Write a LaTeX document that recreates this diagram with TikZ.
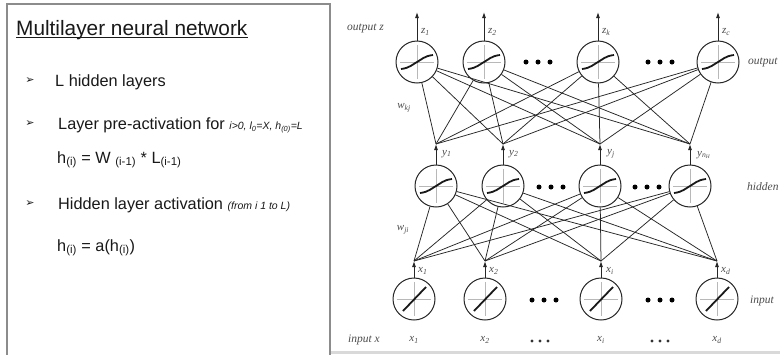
\documentclass[tikz,border=0pt]{standalone}
\usepackage{fontspec}
\setmainfont{Liberation Sans}
\newfontfamily\tim{Liberation Serif}
\newfontfamily\dejavu{DejaVu Sans}
\usetikzlibrary{arrows.meta}
\begin{document}
\begin{tikzpicture}[x=1pt,y=-1pt,
  neuron/.style={circle, draw=black!85, line width=1pt, minimum size=42pt, inner sep=0pt, fill=white},
  sig/.style={neuron, path picture={
      \draw[black!28, line width=0.9pt, shift={(path picture bounding box.center)}] (-17,0) -- (17,0) (0,-17) -- (0,17);
      \draw[black!90, line width=1.8pt, shift={(path picture bounding box.center)}]
        (-16,7) .. controls (-7,6) and (-4,2) .. (0,0) .. controls (4,-2) and (7,-6) .. (16,-7);}},
  lin/.style={neuron, path picture={
      \draw[black!28, line width=0.9pt, shift={(path picture bounding box.center)}] (-17,0) -- (17,0) (0,-17) -- (0,17);
      \draw[black!90, line width=1.8pt, shift={(path picture bounding box.center)}] (-11,12) -- (12,-12);}},
  conn/.style={line width=0.75pt, black!85},
  outarr/.style={line width=0.9pt, black!85, -{Latex[length=6pt,width=4pt]}},
  lab/.style={font=\tim\itshape\fontsize{11}{12}\selectfont, text=black!70, inner sep=0pt},
  side/.style={font=\tim\itshape\fontsize{11.5}{13}\selectfont, text=black!70, inner sep=0pt, anchor=west},
  body/.style={font=\fontsize{16.3}{19}\selectfont, anchor=base west, inner sep=0pt, text=black!90},
  bul/.style={font=\dejavu\fontsize{11}{12}\selectfont, inner sep=0pt, text=black!90},
]
\useasboundingbox (0,0) rectangle (780,354);
\fill[white] (0,0) rectangle (780,354);
% frames
\draw[black!45, line width=1.2pt] (7,360) -- (7,4) -- (330,4) -- (330,360);
\fill[black!15] (331,351) rectangle (780,354);

% left panel text
\node[anchor=base west, inner sep=0pt, font=\fontsize{20.8}{24}\selectfont, text=black!90] (title) at (16,35) {Multilayer neural network};
\draw[line width=1pt, black!90] ([yshift=-2.8pt]title.base west) -- ([yshift=-2.8pt]title.base east);

\node[bul] (b1) at (30,81) {➢};
\node[body] (t1) at (55,86) {L hidden layers};
\node[bul] (b2) at (30,124) {➢};
\node[body] (t2) at (58,129.5) {Layer pre-activation for {\fontsize{10.5}{12}\selectfont\itshape i>0, l\textsubscript{0}=X, h\textsubscript{(0)}=L}};
\node[body] (t3) at (57,163) {h\textsubscript{(i)} = W \textsubscript{(i-1)} * L\textsubscript{(i-1)}};
\node[bul] (b3) at (30,204) {➢};
\node[body] (t4) at (58,209) {Hidden layer activation {\fontsize{10.5}{12}\selectfont\itshape (from i 1 to L)}};
\node[body] (t5) at (57,251) {h\textsubscript{(i)} = a(h\textsubscript{(i)})};

% neurons
\node[sig] (o1) at (417,62) {};
\node[sig] (o2) at (484,62) {};
\node[sig] (ok) at (598,62) {};
\node[sig] (oc) at (718,62) {};
\node[sig] (h1) at (436,186) {};
\node[sig] (h2) at (503,186) {};
\node[sig] (hj) at (600,186) {};
\node[sig] (hn) at (690,186) {};
\node[lin] (i1) at (414,299) {};
\node[lin] (i2) at (485,299) {};
\node[lin] (ii) at (601,299) {};
\node[lin] (id) at (717,299) {};

% arrow ends
\coordinate (ot1) at (417,12);
\coordinate (ot2) at (484,12);
\coordinate (otk) at (598,12);
\coordinate (otc) at (718,12);
\coordinate (ht1) at (436,144);
\coordinate (ht2) at (503,144);
\coordinate (htj) at (600,144);
\coordinate (htn) at (690,144);
\coordinate (it1) at (414,261);
\coordinate (it2) at (485,261);
\coordinate (iti) at (601,261);
\coordinate (itd) at (717,261);

% connections
\foreach \o in {o1,o2,ok,oc}{
  \foreach \t in {ht1,ht2,htj,htn}{\draw[conn] (\o) -- (\t);}}
\foreach \h in {h1,h2,hj,hn}{
  \foreach \t in {it1,it2,iti,itd}{\draw[conn] (\h) -- (\t);}}

% vertical arrows
\draw[outarr] (o1) -- (ot1);
\draw[outarr] (o2) -- (ot2);
\draw[outarr] (ok) -- (otk);
\draw[outarr] (oc) -- (otc);
\draw[outarr] (h1) -- (ht1);
\draw[outarr] (h2) -- (ht2);
\draw[outarr] (hj) -- (htj);
\draw[outarr] (hn) -- (htn);
\draw[outarr] (i1) -- (it1);
\draw[outarr] (i2) -- (it2);
\draw[outarr] (ii) -- (iti);
\draw[outarr] (id) -- (itd);

% dots
\foreach \x/\y in {538/62, 660/62, 551/187, 647/187, 544/300, 660/300}{
  \foreach \d in {-12,0,12}{\fill[black] (\x+\d,\y) circle (2.5);}}
\foreach \x in {540,660}{
  \foreach \d in {-8,0,8}{\fill[black!80] (\x+\d,341) circle (1.6);}}

% labels
\node[lab, anchor=west] (lz1) at (421,32) {z\textsubscript{1}};
\node[lab, anchor=west] (lz2) at (488,32) {z\textsubscript{2}};
\node[lab, anchor=west] (lzk) at (602,32) {z\textsubscript{k}};
\node[lab, anchor=west] (lzc) at (722,32) {z\textsubscript{c}};
\node[lab, anchor=west] (ly1) at (442,154) {y\textsubscript{1}};
\node[lab, anchor=west] (ly2) at (509,154) {y\textsubscript{2}};
\node[lab, anchor=west] (lyj) at (607,154) {y\textsubscript{j}};
\node[lab, anchor=west] (lyn) at (697,155) {y\textsubscript{n\textsubscript{H}}};
\node[lab, anchor=west] (lx1) at (418,271) {x\textsubscript{1}};
\node[lab, anchor=west] (lx2) at (489,271) {x\textsubscript{2}};
\node[lab, anchor=west] (lxi) at (606,271) {x\textsubscript{i}};
\node[lab, anchor=west] (lxd) at (721,271) {x\textsubscript{d}};
\node[lab] (bx1) at (414,340) {x\textsubscript{1}};
\node[lab] (bx2) at (485,340) {x\textsubscript{2}};
\node[lab] (bxi) at (601,340) {x\textsubscript{i}};
\node[lab] (bxd) at (717,340) {x\textsubscript{d}};
\node[lab] (wkj) at (404,108) {w\textsubscript{kj}};
\node[lab] (wji) at (403,230) {w\textsubscript{ji}};
\node[side] (sz) at (347,28) {output z};
\node[side] (sx) at (348,340) {input x};
\node[side] (so) at (748,62) {output};
\node[side] (sh) at (747,187) {hidden};
\node[side] (si) at (750,301) {input};
\end{tikzpicture}
\end{document}
